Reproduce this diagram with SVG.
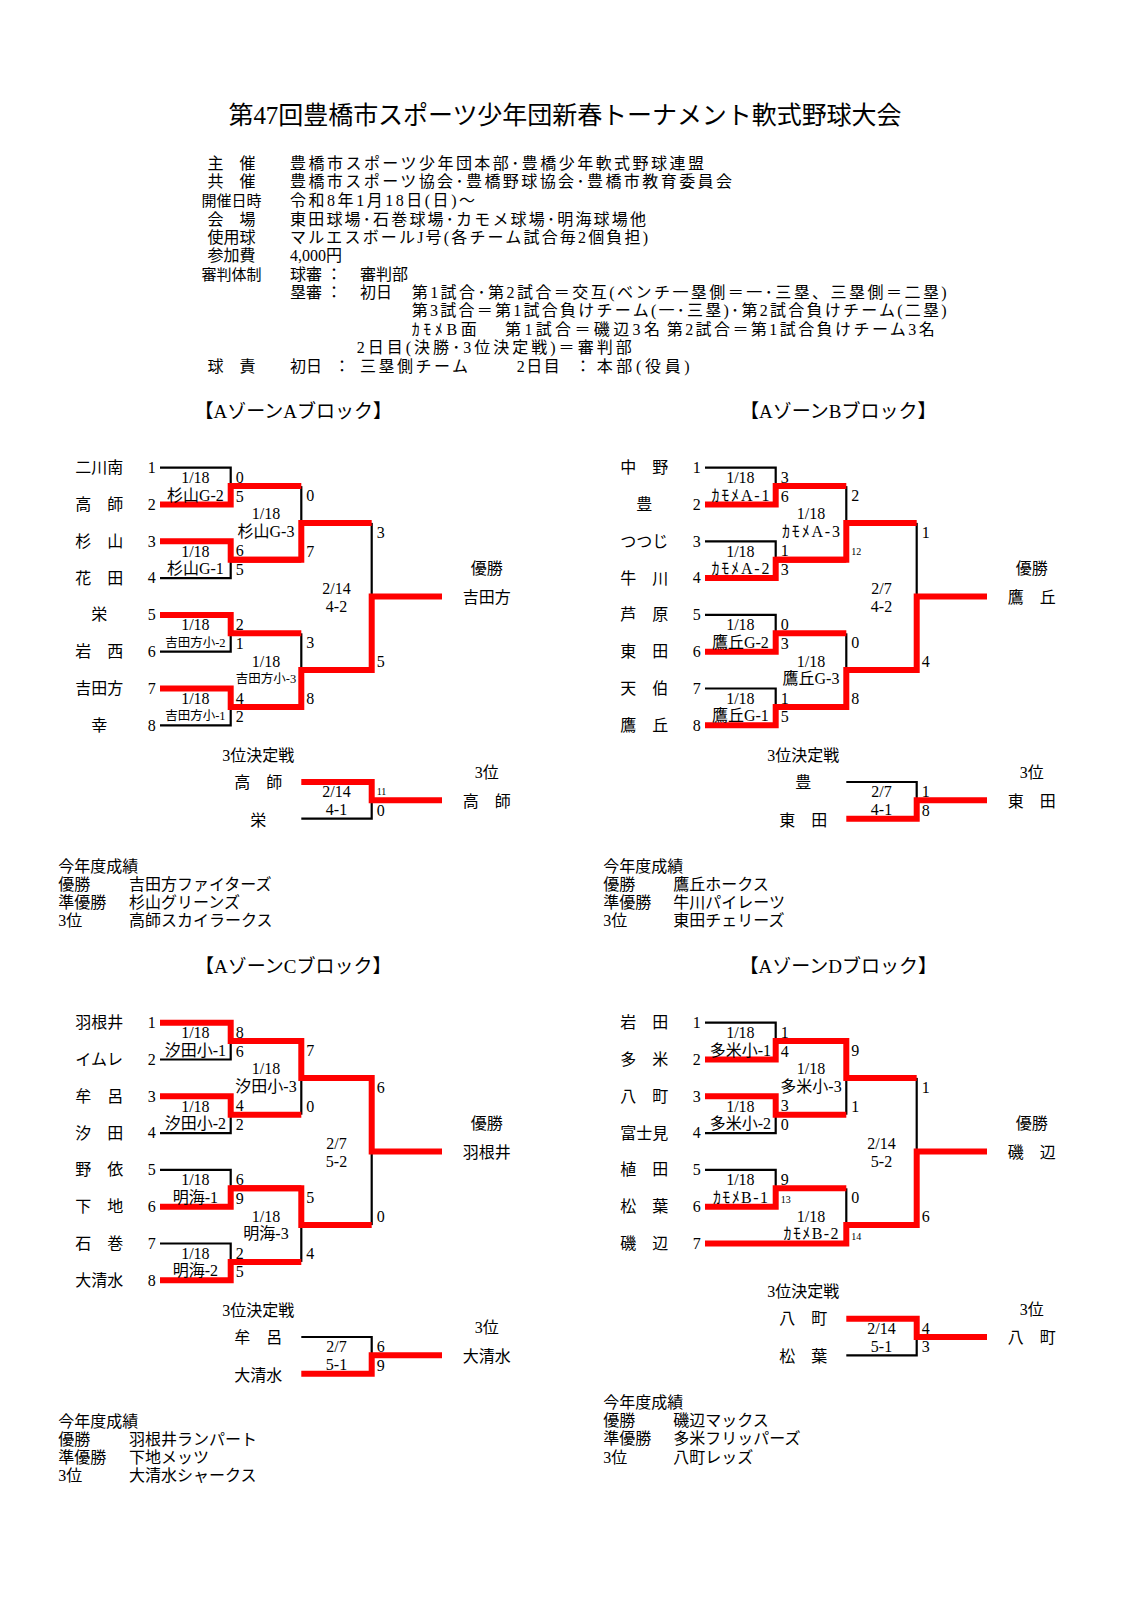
<svg xmlns="http://www.w3.org/2000/svg" width="1131" height="1602" viewBox="0 0 1131 1602">
<style>
text{font-family:"Liberation Serif","Noto Sans CJK JP",serif;fill:#000;font-size:16px}
.c{text-anchor:middle}
.h{font-size:17px}
.hs{font-size:15px}
.sm{font-size:12.5px}
.xs{font-size:10px}
.ttl{font-size:19px;text-anchor:middle}
.k{stroke:#000;stroke-width:2.2;fill:none;stroke-linejoin:miter}
.r{stroke:#f00;stroke-width:6;fill:none;stroke-linejoin:miter}
</style>
<rect width="1131" height="1602" fill="#fff"/>

<g id="header">
<text x="565" y="124" class="c" style="font-size:25px" textLength="673">第47回豊橋市スポーツ少年団新春トーナメント軟式野球大会</text>
<g class="c h">
<text x="231.5" y="169">主　催</text>
<text x="231.5" y="187.3">共　催</text>
<text x="231.5" y="205.5" class="hs">開催日時</text>
<text x="231.5" y="224.5">会　場</text>
<text x="231.5" y="243">使用球</text>
<text x="231.5" y="261.3">参加費</text>
<text x="231.5" y="279.5" class="hs">審判体制</text>
<text x="231.5" y="372.3">球　責</text>
</g>
<g class="h">
<text x="290" y="169" textLength="414">豊橋市スポーツ少年団本部･豊橋少年軟式野球連盟</text>
<text x="290" y="187.3" textLength="442">豊橋市スポーツ協会･豊橋野球協会･豊橋市教育委員会</text>
<text x="290" y="205.5" textLength="185">令和8年1月18日(日)～</text>
<text x="290" y="224.5" textLength="356">東田球場･石巻球場･カモメ球場･明海球場他</text>
<text x="290" y="243" textLength="358">マルエスボールJ号(各チーム試合毎2個負担)</text>
<text x="290" y="261.3">4,000円</text>
<text x="290" y="279.5">球審</text>
<text x="334" y="279.5" class="c">：</text>
<text x="360" y="279.5">審判部</text>
<text x="290" y="298">塁審</text>
<text x="334" y="298" class="c">：</text>
<text x="360" y="298">初日</text>
<text x="411.7" y="298" textLength="535">第1試合･第2試合＝交互(ベンチ一塁側＝一･三塁、三塁側＝二塁)</text>
<text x="411.7" y="316.3" textLength="535">第3試合＝第1試合負けチーム(一･三塁)･第2試合負けチーム(二塁)</text>
<text x="411.7" y="334.8" textLength="65">ｶﾓﾒB面</text>
<text x="505" y="334.8" textLength="155">第1試合＝磯辺3名</text>
<text x="666.7" y="334.8" textLength="268">第2試合＝第1試合負けチーム3名</text>
<text x="356.7" y="353.2" textLength="275">2日目(決勝･3位決定戦)＝審判部</text>
<text x="290" y="372.3">初日</text>
<text x="342" y="372.3" class="c">：</text>
<text x="360" y="372.3" textLength="108">三塁側チーム</text>
<text x="516.7" y="372.3" textLength="43">2日目</text>
<text x="583" y="372.3" class="c">：</text>
<text x="596.7" y="372.3" textLength="93">本部(役員)</text>
</g>
</g>

<!-- ================= BLOCK A ================= -->
<g id="blockA">
<text class="ttl" x="293.3" y="418.3">【AゾーンAブロック】</text>
<g id="A-connectors">
<path class="k" d="M160 467.7H230.7V486.1"/>
<path class="k" d="M160 578.1H230.7V559.7"/>
<path class="k" d="M160 651.7H230.7V633.3"/>
<path class="k" d="M160 725.3H230.7V706.9"/>
<path class="k" d="M301.3 486.1V522.9"/>
<path class="k" d="M301.3 633.3V670.1"/>
<path class="k" d="M371.7 522.9V596.5"/>
<path class="k" d="M301.3 818.7H371.7V800.3"/>
<path class="r" d="M160 504.5H230.7V486.1H301.3"/>
<path class="r" d="M160 541.3H230.7V559.7H301.3"/>
<path class="r" d="M160 614.9H230.7V633.3H301.3"/>
<path class="r" d="M160 688.5H230.7V706.9H301.3"/>
<path class="r" d="M230.7 559.7H301.3V522.9H371.7"/>
<path class="r" d="M230.7 706.9H301.3V670.1H371.7"/>
<path class="r" d="M301.3 670.1H371.7V596.5H442"/>
<path class="r" d="M301.3 782H371.7V800.3H442"/>
</g>
<g id="A-teams" class="c">
<text x="99.2" y="473.2">二川南</text>
<text x="99.2" y="510">高　師</text>
<text x="99.2" y="546.8">杉　山</text>
<text x="99.2" y="583.6">花　田</text>
<text x="99.2" y="620.4">栄</text>
<text x="99.2" y="657.2">岩　西</text>
<text x="99.2" y="694">吉田方</text>
<text x="99.2" y="730.8">幸</text>
<text x="151.7" y="473">1</text>
<text x="151.7" y="509.8">2</text>
<text x="151.7" y="546.6">3</text>
<text x="151.7" y="583.4">4</text>
<text x="151.7" y="620.2">5</text>
<text x="151.7" y="657">6</text>
<text x="151.7" y="693.8">7</text>
<text x="151.7" y="730.6">8</text>
</g>
<g id="A-matches">
<g class="c">
<text x="195.4" y="483.1">1/18</text><text x="195.4" y="500.6">杉山G-2</text>
<text x="195.4" y="556.7">1/18</text><text x="195.4" y="574.2">杉山G-1</text>
<text x="195.4" y="630.3">1/18</text><text x="195.4" y="646.8" class="sm">吉田方小-2</text>
<text x="195.4" y="703.9">1/18</text><text x="195.4" y="720.4" class="sm">吉田方小-1</text>
<text x="266" y="519.4">1/18</text><text x="266" y="536.9">杉山G-3</text>
<text x="266" y="666.6">1/18</text><text x="266" y="683" class="sm">吉田方小-3</text>
<text x="336.5" y="593.5">2/14</text><text x="336.5" y="611.5">4-2</text>
<text x="486.7" y="574">優勝</text><text x="486.7" y="602.5">吉田方</text>
</g>
<text x="235.7" y="482.7">0</text><text x="235.7" y="501.5">5</text>
<text x="235.7" y="556.3">6</text><text x="235.7" y="575.1">5</text>
<text x="235.7" y="629.9">2</text><text x="235.7" y="648.7">1</text>
<text x="235.7" y="703.5">4</text><text x="235.7" y="722.3">2</text>
<text x="306.3" y="501.1">0</text><text x="306.3" y="556.7">7</text>
<text x="306.3" y="648.3">3</text><text x="306.3" y="703.9">8</text>
<text x="376.7" y="537.9">3</text><text x="376.7" y="667.1">5</text>
</g>
<g id="A-third">
<g class="c">
<text x="258.3" y="760.5">3位決定戦</text>
<text x="258.3" y="787.5">高　師</text>
<text x="258.3" y="825.5">栄</text>
<text x="336.5" y="797.3">2/14</text><text x="336.5" y="815">4-1</text>
<text x="486.7" y="778.3">3位</text><text x="486.7" y="806.5">高　師</text>
</g>
<text x="376.7" y="795" class="xs">11</text><text x="376.7" y="815.7">0</text>
</g>
<g id="A-results">
<text x="58.3" y="871.5">今年度成績</text>
<text x="58.3" y="889.5">優勝</text><text x="129" y="889.5">吉田方ファイターズ</text>
<text x="58.3" y="907.7">準優勝</text><text x="129" y="907.7">杉山グリーンズ</text>
<text x="58.3" y="926">3位</text><text x="129" y="926">高師スカイラークス</text>
</g>
</g>

<!-- ================= BLOCK B ================= -->
<g id="blockB" transform="translate(545,0)">
<text class="ttl" x="293.3" y="418.3">【AゾーンBブロック】</text>
<g id="B-connectors">
<path class="k" d="M160 467.7H230.7V486.1"/>
<path class="k" d="M160 541.3H230.7V559.7"/>
<path class="k" d="M160 614.9H230.7V633.3"/>
<path class="k" d="M160 688.5H230.7V706.9"/>
<path class="k" d="M301.3 486.1V522.9"/>
<path class="k" d="M301.3 633.3V670.1"/>
<path class="k" d="M371.7 522.9V596.5"/>
<path class="k" d="M301.3 782H371.7V800.3"/>
<path class="r" d="M160 504.5H230.7V486.1H301.3"/>
<path class="r" d="M160 578.1H230.7V559.7H301.3"/>
<path class="r" d="M160 651.7H230.7V633.3H301.3"/>
<path class="r" d="M160 725.3H230.7V706.9H301.3"/>
<path class="r" d="M230.7 559.7H301.3V522.9H371.7"/>
<path class="r" d="M230.7 706.9H301.3V670.1H371.7"/>
<path class="r" d="M301.3 670.1H371.7V596.5H442"/>
<path class="r" d="M301.3 818.7H371.7V800.3H442"/>
</g>
<g id="B-teams" class="c">
<text x="99.2" y="473.2">中　野</text>
<text x="99.2" y="510">豊</text>
<text x="99.2" y="546.8">つつじ</text>
<text x="99.2" y="583.6">牛　川</text>
<text x="99.2" y="620.4">芦　原</text>
<text x="99.2" y="657.2">東　田</text>
<text x="99.2" y="694">天　伯</text>
<text x="99.2" y="730.8">鷹　丘</text>
<text x="151.7" y="473">1</text>
<text x="151.7" y="509.8">2</text>
<text x="151.7" y="546.6">3</text>
<text x="151.7" y="583.4">4</text>
<text x="151.7" y="620.2">5</text>
<text x="151.7" y="657">6</text>
<text x="151.7" y="693.8">7</text>
<text x="151.7" y="730.6">8</text>
</g>
<g id="B-matches">
<g class="c">
<text x="195.4" y="483.1">1/18</text><text x="195.4" y="500.6" textLength="58">ｶﾓﾒA-1</text>
<text x="195.4" y="556.7">1/18</text><text x="195.4" y="574.2" textLength="58">ｶﾓﾒA-2</text>
<text x="195.4" y="630.3">1/18</text><text x="195.4" y="647.8">鷹丘G-2</text>
<text x="195.4" y="703.9">1/18</text><text x="195.4" y="721.4">鷹丘G-1</text>
<text x="266" y="519.4">1/18</text><text x="266" y="536.9" textLength="58">ｶﾓﾒA-3</text>
<text x="266" y="666.6">1/18</text><text x="266" y="684.1">鷹丘G-3</text>
<text x="336.5" y="593.5">2/7</text><text x="336.5" y="611.5">4-2</text>
<text x="486.7" y="574">優勝</text><text x="486.7" y="602.5">鷹　丘</text>
</g>
<text x="235.7" y="482.7">3</text><text x="235.7" y="501.5">6</text>
<text x="235.7" y="556.3">1</text><text x="235.7" y="575.1">3</text>
<text x="235.7" y="629.9">0</text><text x="235.7" y="648.7">3</text>
<text x="235.7" y="703.5">1</text><text x="235.7" y="722.3">5</text>
<text x="306.3" y="501.1">2</text><text x="306.3" y="555.2" class="xs">12</text>
<text x="306.3" y="648.3">0</text><text x="306.3" y="703.9">8</text>
<text x="376.7" y="537.9">1</text><text x="376.7" y="667.1">4</text>
</g>
<g id="B-third">
<g class="c">
<text x="258.3" y="760.5">3位決定戦</text>
<text x="258.3" y="787.5">豊</text>
<text x="258.3" y="825.5">東　田</text>
<text x="336.5" y="797.3">2/7</text><text x="336.5" y="815">4-1</text>
<text x="486.7" y="778.3">3位</text><text x="486.7" y="806.5">東　田</text>
</g>
<text x="376.7" y="797">1</text><text x="376.7" y="815.7">8</text>
</g>
<g id="B-results">
<text x="58.3" y="871.5">今年度成績</text>
<text x="58.3" y="889.5">優勝</text><text x="128.3" y="889.5">鷹丘ホークス</text>
<text x="58.3" y="907.7">準優勝</text><text x="128.3" y="907.7">牛川パイレーツ</text>
<text x="58.3" y="926">3位</text><text x="128.3" y="926">東田チェリーズ</text>
</g>
</g>

<!-- ================= BLOCK C ================= -->
<g id="blockC" transform="translate(0,555)">
<text class="ttl" x="293.3" y="418.3">【AゾーンCブロック】</text>
<g id="C-connectors">
<path class="k" d="M160 504.5H230.7V486.1"/>
<path class="k" d="M160 578.1H230.7V559.7"/>
<path class="k" d="M160 614.9H230.7V633.3"/>
<path class="k" d="M160 688.5H230.7V706.9"/>
<path class="k" d="M301.3 559.7V522.9"/>
<path class="k" d="M301.3 706.9V670.1"/>
<path class="k" d="M371.7 670.1V596.5"/>
<path class="k" d="M301.3 782H371.7V800.3"/>
<path class="r" d="M160 467.7H230.7V486.1H301.3"/>
<path class="r" d="M160 541.3H230.7V559.7H301.3"/>
<path class="r" d="M160 651.7H230.7V633.3H301.3"/>
<path class="r" d="M160 725.3H230.7V706.9H301.3"/>
<path class="r" d="M230.7 486.1H301.3V522.9H371.7"/>
<path class="r" d="M230.7 633.3H301.3V670.1H371.7"/>
<path class="r" d="M301.3 522.9H371.7V596.5H442"/>
<path class="r" d="M301.3 818.7H371.7V800.3H442"/>
</g>
<g id="C-teams" class="c">
<text x="99.2" y="473.2">羽根井</text>
<text x="99.2" y="510">イムレ</text>
<text x="99.2" y="546.8">牟　呂</text>
<text x="99.2" y="583.6">汐　田</text>
<text x="99.2" y="620.4">野　依</text>
<text x="99.2" y="657.2">下　地</text>
<text x="99.2" y="694">石　巻</text>
<text x="99.2" y="730.8">大清水</text>
<text x="151.7" y="473">1</text>
<text x="151.7" y="509.8">2</text>
<text x="151.7" y="546.6">3</text>
<text x="151.7" y="583.4">4</text>
<text x="151.7" y="620.2">5</text>
<text x="151.7" y="657">6</text>
<text x="151.7" y="693.8">7</text>
<text x="151.7" y="730.6">8</text>
</g>
<g id="C-matches">
<g class="c">
<text x="195.4" y="483.1">1/18</text><text x="195.4" y="500.6">汐田小-1</text>
<text x="195.4" y="556.7">1/18</text><text x="195.4" y="574.2">汐田小-2</text>
<text x="195.4" y="630.3">1/18</text><text x="195.4" y="647.8">明海-1</text>
<text x="195.4" y="703.9">1/18</text><text x="195.4" y="721.4">明海-2</text>
<text x="266" y="519.4">1/18</text><text x="266" y="536.9">汐田小-3</text>
<text x="266" y="666.6">1/18</text><text x="266" y="684.1">明海-3</text>
<text x="336.5" y="593.5">2/7</text><text x="336.5" y="611.5">5-2</text>
<text x="486.7" y="574">優勝</text><text x="486.7" y="602.5">羽根井</text>
</g>
<text x="235.7" y="482.7">8</text><text x="235.7" y="501.5">6</text>
<text x="235.7" y="556.3">4</text><text x="235.7" y="575.1">2</text>
<text x="235.7" y="629.9">6</text><text x="235.7" y="648.7">9</text>
<text x="235.7" y="703.5">2</text><text x="235.7" y="722.3">5</text>
<text x="306.3" y="501.1">7</text><text x="306.3" y="556.7">0</text>
<text x="306.3" y="648.3">5</text><text x="306.3" y="703.9">4</text>
<text x="376.7" y="537.9">6</text><text x="376.7" y="667.1">0</text>
</g>
<g id="C-third">
<g class="c">
<text x="258.3" y="760.5">3位決定戦</text>
<text x="258.3" y="787.5">牟　呂</text>
<text x="258.3" y="825.5">大清水</text>
<text x="336.5" y="797.3">2/7</text><text x="336.5" y="815">5-1</text>
<text x="486.7" y="778.3">3位</text><text x="486.7" y="806.5">大清水</text>
</g>
<text x="376.7" y="797">6</text><text x="376.7" y="815.7">9</text>
</g>
<g id="C-results">
<text x="58.3" y="871.5">今年度成績</text>
<text x="58.3" y="889.5">優勝</text><text x="129" y="889.5">羽根井ランパート</text>
<text x="58.3" y="907.7">準優勝</text><text x="129" y="907.7">下地メッツ</text>
<text x="58.3" y="926">3位</text><text x="129" y="926">大清水シャークス</text>
</g>
</g>

<!-- ================= BLOCK D ================= -->
<g id="blockD" transform="translate(545,555)">
<text class="ttl" x="293.3" y="418.3">【AゾーンDブロック】</text>
<g id="D-connectors">
<path class="k" d="M160 467.7H230.7V486.1"/>
<path class="k" d="M160 578.1H230.7V559.7"/>
<path class="k" d="M160 614.9H230.7V633.3"/>
<path class="k" d="M301.3 559.7V522.9"/>
<path class="k" d="M301.3 633.3V670.1"/>
<path class="k" d="M371.7 522.9V596.5"/>
<path class="r" d="M160 504.5H230.7V486.1H301.3"/>
<path class="r" d="M160 541.3H230.7V559.7H301.3"/>
<path class="r" d="M160 651.7H230.7V633.3H301.3"/>
<path class="r" d="M230.7 486.1H301.3V522.9H371.7"/>
<path class="r" d="M160 688.5H301.3V670.1H371.7"/>
<path class="r" d="M301.3 670.1H371.7V596.5H442"/>
</g>
<g id="D-teams" class="c">
<text x="99.2" y="473.2">岩　田</text>
<text x="99.2" y="510">多　米</text>
<text x="99.2" y="546.8">八　町</text>
<text x="99.2" y="583.6">富士見</text>
<text x="99.2" y="620.4">植　田</text>
<text x="99.2" y="657.2">松　葉</text>
<text x="99.2" y="694">磯　辺</text>
<text x="151.7" y="473">1</text>
<text x="151.7" y="509.8">2</text>
<text x="151.7" y="546.6">3</text>
<text x="151.7" y="583.4">4</text>
<text x="151.7" y="620.2">5</text>
<text x="151.7" y="657">6</text>
<text x="151.7" y="693.8">7</text>
</g>
<g id="D-matches">
<g class="c">
<text x="195.4" y="483.1">1/18</text><text x="195.4" y="500.6">多米小-1</text>
<text x="195.4" y="556.7">1/18</text><text x="195.4" y="574.2">多米小-2</text>
<text x="195.4" y="630.3">1/18</text><text x="195.4" y="647.8" textLength="55">ｶﾓﾒB-1</text>
<text x="266" y="519.4">1/18</text><text x="266" y="536.9">多米小-3</text>
<text x="266" y="666.6">1/18</text><text x="266" y="684.1" textLength="55">ｶﾓﾒB-2</text>
<text x="336.5" y="593.5">2/14</text><text x="336.5" y="611.5">5-2</text>
<text x="486.7" y="574">優勝</text><text x="486.7" y="602.5">磯　辺</text>
</g>
<text x="235.7" y="482.7">1</text><text x="235.7" y="501.5">4</text>
<text x="235.7" y="556.3">3</text><text x="235.7" y="575.1">0</text>
<text x="235.7" y="629.9">9</text><text x="235.7" y="648.2" class="xs">13</text>
<text x="306.3" y="501.1">9</text><text x="306.3" y="556.7">1</text>
<text x="306.3" y="648.3">0</text><text x="306.3" y="684.5" class="xs">14</text>
<text x="376.7" y="537.9">1</text><text x="376.7" y="667.1">6</text>
</g>
<g id="D-lower" transform="translate(0,-18.3)">
<g id="D-third">
<path class="k" d="M301.3 818.7H371.7V800.3"/>
<path class="r" d="M301.3 782H371.7V800.3H442"/>
<g class="c">
<text x="258.3" y="760.5">3位決定戦</text>
<text x="258.3" y="787.5">八　町</text>
<text x="258.3" y="825.5">松　葉</text>
<text x="336.5" y="797.3">2/14</text><text x="336.5" y="815">5-1</text>
<text x="486.7" y="778.3">3位</text><text x="486.7" y="806.5">八　町</text>
</g>
<text x="376.7" y="797">4</text><text x="376.7" y="815.7">3</text>
</g>
<g id="D-results">
<text x="58.3" y="871.5">今年度成績</text>
<text x="58.3" y="889.5">優勝</text><text x="128.3" y="889.5">磯辺マックス</text>
<text x="58.3" y="907.7">準優勝</text><text x="128.3" y="907.7">多米フリッパーズ</text>
<text x="58.3" y="926">3位</text><text x="128.3" y="926">八町レッズ</text>
</g>
</g>
</g>
</svg>
